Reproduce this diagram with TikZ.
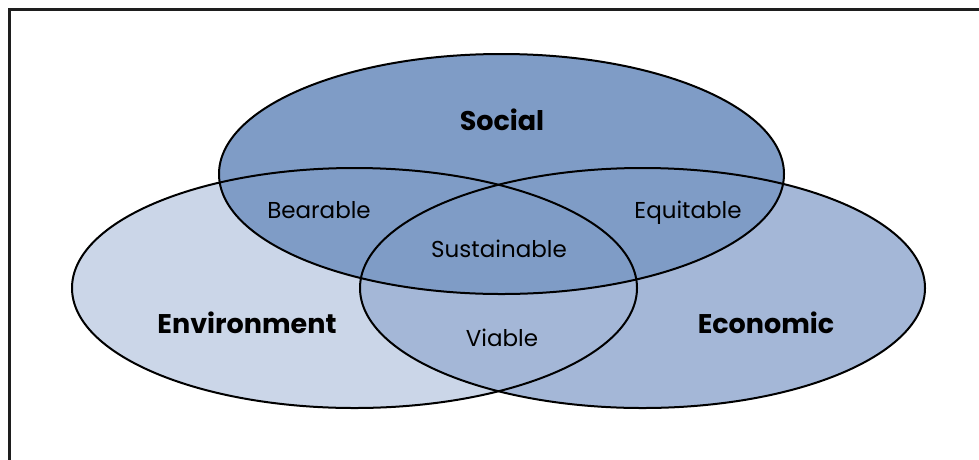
\documentclass[tikz,border=0pt]{standalone}
\usepackage{fontspec}
\setmainfont{Poppins}
\definecolor{socialc}{RGB}{127,156,198}
\definecolor{econc}{RGB}{164,183,215}
\definecolor{envc}{RGB}{203,214,232}
\definecolor{framec}{RGB}{30,30,30}
\tikzset{
  circfill/.style={draw=none},
  circline/.style={draw=black,line width=2pt},
  title/.style={font=\fontsize{27}{30}\selectfont\bfseries,inner sep=0pt},
  label/.style={font=\fontsize{23}{26}\selectfont,inner sep=0pt},
}
\begin{document}
\begin{tikzpicture}[x=1pt,y=-1pt]
\useasboundingbox (0,0) rectangle (979,459);
\draw[framec,line width=2.4pt] (9.5,470) -- (9.5,9.5) -- (990,9.5);
\coordinate (envC) at (354.5,288);
\coordinate (econC) at (642.5,288);
\coordinate (socC) at (501.5,174);
\fill[envc] (envC) ellipse [x radius=282.5, y radius=120];
\fill[econc] (econC) ellipse [x radius=282.5, y radius=120];
\fill[socialc] (socC) ellipse [x radius=282.5, y radius=120];
\draw[circline] (envC) ellipse [x radius=282.5, y radius=120];
\draw[circline] (econC) ellipse [x radius=282.5, y radius=120];
\draw[circline] (socC) ellipse [x radius=282.5, y radius=120];
\node[title] (social) at (502,120) {Social};
\node[title] (environment) at (247,323) {Environment};
\node[title] (economic) at (766,323) {Economic};
\node[label] (bearable) at (319,210) {Bearable};
\node[label] (equitable) at (688,212.5) {Equitable};
\node[label] (sustainable) at (499,249) {Sustainable};
\node[label] (viable) at (502,338) {Viable};
\end{tikzpicture}
\end{document}
